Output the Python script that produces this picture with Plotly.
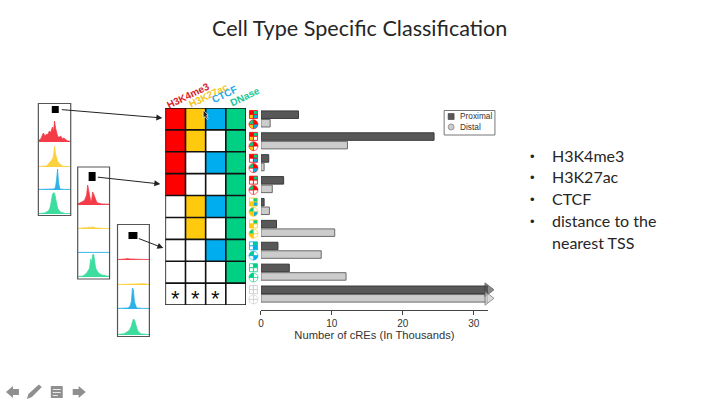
import plotly.graph_objects as go

W, H = 720, 404
X_NUDGE = 2  # the page draws the figure this many pixels to the right
def px(x): return (x - X_NUDGE) / W
def py(y): return 1 - y / H

# ---------- data ----------
title = "Cell Type Specific Classification"
marks = ["H3K4me3", "H3K27ac", "CTCF", "DNase"]
mark_colors = ["#ff0000", "#ffc90e", "#00aeef", "#00d084"]
header_colors = ["#d8232a", "#f5c518", "#1ca9e6", "#19c795"]
track_colors = ["#f43c48", "#fcd03e", "#2db2e8", "#3ddc9f"]
rows = list(range(1, 10))
# which mark is present in each row (H3K4me3, H3K27ac, CTCF, DNase)
presence = [
    [1, 1, 1, 1], [1, 1, 0, 1], [1, 0, 1, 1], [1, 0, 0, 1], [0, 1, 1, 1],
    [0, 1, 0, 1], [0, 0, 1, 1], [0, 0, 0, 1], [0, 0, 0, 0],
]
star_columns = ["H3K4me3", "H3K27ac", "CTCF"]
proximal = [5.3, 24.4, 1.1, 3.2, 0.45, 2.2, 2.4, 4.0, 32]
distal = [1.3, 12.2, 0.45, 1.6, 1.2, 10.4, 8.5, 12.0, 32]
x_ticks = [0, 10, 20, 30]
x_title = "Number of cREs (In Thousands)"
bullets = ["H3K4me3", "H3K27ac", "CTCF", "distance to the"]
bullet_cont = "nearest TSS"

p1_red = [1,2,3,4,7,9,7,6,8,7,9,11,9,13,15,10,21,14,9,6,5,5,6,4,3,4,3,2,2,1,1,1,.5]
p1_yel = [.4,.4,.4,.5,.5,.5,1,1,1,2,3,4,5,6,8,11,21,13,8,6,4,3,2,1,1,.7,.5,.5,.4,.4,.4,.4,.4]
p1_blu = [.6,.6,.6,.6,.6,.6,.6,.6,.6,.6,.6,.6,.6,.7,.8,1,1.5,3,10,21,7,2,1,.7,.6,.6,.6,.6,.6,.6,.6,.6,.6]
p1_grn = [.5,.5,.5,1,1,1,1,1.5,2,2,3,5,8,14,20,21,21,16,10,6,4,2.5,2,1.5,1,1,.7,.5,.5,.5,.5,.5,.5]
p2_red = [1,1.5,2,2,3,3,4,5,7,10,20,15,8,4,4,13,11,8,5,3,2,2,2,1.5,1,1,1,1,1,1,.8,.8,.8]
p2_yel = [.5,.5,.5,.6,.7,1,1,1.5,1,1,1.5,2,1.5,1,2.5,1.5,2,1,1,1,.8,1,.8,.7,.7,.6,.5,.5,.5,.5,.5,.5,.5]
p2_blu = [.6,.6,.6,.6,.6,.7,.6,.6,.7,.6,.6,.7,.6,.6,.7,.6,.6,.7,.6,.6,.6,.7,.6,.6,.6,.6,.7,.6,.6,.6,.6,.6,.6]
p2_grn = [.5,.5,.5,.6,.7,1,1.5,2,3,4,5,7,9,18,14,22,23,13,9,7,5,4,3,3,2,2,1.5,2,1.5,1,1,.8,.7]
p3_red = [.5,.5,.5,.6,.6,.8,1,1.2,1,1.4,1.5,1.2,1.1,1,.9,.8,.8,.7,.8,.7,.7,.8,.7,.7,.6,.6,.7,.6,.6,.6,.5,.5,.5]
p3_yel = [.5,.5,.5,.5,.5,.5,.5,.5,.6,.5,.5,.6,.5,.5,.6,.6,.6,.7,.7,.8,.8,.9,1,1,1.2,1.4,1.2,1.6,1.2,1,.7,.6,.5]
p3_blu = [.6,.6,.6,.6,.6,.6,.6,.6,.7,.8,1,1.4,2,4,8,21,19,7,3,1.5,1,.8,.7,.6,.6,.6,.6,.6,.6,.6,.6,.6,.6]
p3_grn = [.5,.5,.6,.7,.8,1,1.2,1.5,2,2.5,3,4,5,7,9,13,16,15,11,8,5,3,2,1.5,1,1,.8,.7,.6,.6,.5,.5,.5]
panels = [[p1_red, p1_yel, p1_blu, p1_grn],
          [p2_red, p2_yel, p2_blu, p2_grn],
          [p3_red, p3_yel, p3_blu, p3_grn]]

# ---------- layout geometry ----------
panel_x = [(37.5, 70), (77, 109), (117, 149)]
panel_base = [[142, 167, 190, 214], [205, 229, 253, 277], [260, 285, 309, 335]]
panel_top = [103.5, 167, 224.5]
panel_bottom = [215.5, 279, 336.5]
selectors = [(51, 106, 58, 113), (88, 172, 95, 181), (128, 232, 137, 239)]
arrows = [(60, 109.5, 162, 118), (96, 177, 160, 184), (137, 238, 163, 248)]
mat_l, mat_r, mat_t, mat_b = 165, 246, 108, 305
bar_l, bar_r = 261, 489
axis_y = 310

fig = go.Figure()
shapes, annots = [], []

def label(x, y, text, size, color, family="Liberation Sans", xanchor="center", **kw):
    annots.append(dict(x=px(x), y=py(y), xref="paper", yref="paper", text=text, showarrow=False,
                       xanchor=xanchor, yanchor="middle",
                       font=dict(family=family, size=size, color=color), **kw))

# ---------- bars ----------
fig.add_trace(go.Bar(x=proximal, y=rows, orientation="h", xaxis="x", yaxis="y", showlegend=False, name="Proximal",
                     marker=dict(color="#585858", line=dict(color="#3a3a3a", width=1))))
fig.add_trace(go.Bar(x=distal, y=rows, orientation="h", xaxis="x", yaxis="y", showlegend=False, name="Distal",
                     marker=dict(color="#cccccc", line=dict(color="#6a6a6a", width=1))))
fig.add_trace(go.Scatter(x=[proximal[-1], distal[-1]], y=[rows[-1] - .195, rows[-1] + .195], mode="markers",
                         xaxis="x", yaxis="y", showlegend=False, cliponaxis=False, hoverinfo="skip",
                         marker=dict(symbol="triangle-right", size=[12, 12], color=["#585858", "#cccccc"],
                                     line=dict(color=["#3a3a3a", "#6a6a6a"], width=1))))

# ---------- matrix ----------
z = [[(c + 1) * v for c, v in enumerate(r)] for r in presence]
scale = [[0, "#ffffff"], [.2, "#ffffff"], [.2, mark_colors[0]], [.4, mark_colors[0]], [.4, mark_colors[1]],
         [.6, mark_colors[1]], [.6, mark_colors[2]], [.8, mark_colors[2]], [.8, mark_colors[3]], [1, mark_colors[3]]]
fig.add_trace(go.Heatmap(z=z, x=[0, 1, 2, 3], y=rows, zmin=0, zmax=4.99, colorscale=scale, showscale=False,
                         xaxis="x2", yaxis="y2", hoverinfo="skip"))
for i in range(5):
    shapes.append(dict(type="line", xref="x2", yref="y2", x0=i - .5, x1=i - .5, y0=.5, y1=9.5,
                       line=dict(color="#111", width=1.6)))
for i in range(10):
    shapes.append(dict(type="line", xref="x2", yref="y2", x0=-.5, x1=3.5, y0=i + .5, y1=i + .5,
                       line=dict(color="#111", width=1.6)))
for name in star_columns:
    annots.append(dict(x=marks.index(name), y=9, xref="x2", yref="y2", text="*", showarrow=False, yshift=-4,
                       font=dict(family="Liberation Sans", size=22, color="#111")))

# headers
hdr_pos = [(188, 95), (208, 95), (224, 94), (245, 96)]
for m, c, (x, y) in zip(marks, header_colors, hdr_pos):
    label(x, y, "<b>" + m + "</b>", 10, c, textangle=-26)

# ---------- icons ----------
ic_l, ic_r = 249.5, 257.5
row_h = (mat_b - mat_t) / 9
quad_order = [(0, 0, 0), (0, 1, 3), (1, 0, 1), (1, 1, 2)]  # row, col, mark index
for i, pres in enumerate(presence):
    border = next((mark_colors[k] for k, v in enumerate(pres) if v), "#c8c8c8")
    top = mat_t + i * row_h + 2.5
    hs = (ic_r - ic_l) / 2
    for r, c, k in quad_order:
        shapes.append(dict(type="rect", xref="paper", yref="paper",
                           x0=px(ic_l + c * hs), x1=px(ic_l + (c + 1) * hs),
                           y0=py(top + r * hs), y1=py(top + (r + 1) * hs),
                           fillcolor=mark_colors[k] if pres[k] else "#ffffff",
                           line=dict(color=border, width=.8)))
    pie_top = top + 9.3
    fig.add_trace(go.Pie(values=[1, 1, 1, 1], sort=False, direction="clockwise", rotation=0, textinfo="none",
                         hoverinfo="skip", showlegend=False, automargin=False,
                         domain=dict(x=[px(ic_l - .5), px(ic_r + .5)], y=[py(pie_top + 9), py(pie_top)]),
                         marker=dict(colors=[mark_colors[k] if pres[k] else "#ffffff" for k in (0, 2, 1, 3)],
                                     line=dict(color=border, width=.6))))

# ---------- tracks ----------
layout_axes = {}
n = 3
for p, tracks in enumerate(panels):
    l, r = panel_x[p]
    for t, vals in enumerate(tracks):
        fig.add_trace(go.Scatter(x=list(range(len(vals))), y=vals, mode="lines", fill="tozeroy",
                                 fillcolor=track_colors[t], line=dict(color=track_colors[t], width=.8),
                                 xaxis=f"x{n}", yaxis=f"y{n}", showlegend=False, hoverinfo="skip"))
        base = panel_base[p][t]
        layout_axes[f"xaxis{n}"] = dict(domain=[px(l), px(r)], range=[0, len(vals) - 1], visible=False, anchor=f"y{n}")
        layout_axes[f"yaxis{n}"] = dict(domain=[py(base), py(base - 24)], range=[0, 24], visible=False, anchor=f"x{n}")
        n += 1
    shapes.append(dict(type="rect", xref="paper", yref="paper", x0=px(l), x1=px(r), y0=py(panel_bottom[p]),
                       y1=py(panel_top[p]), line=dict(color="#555", width=1.2)))
    a, b, c, d = selectors[p]
    shapes.append(dict(type="rect", xref="paper", yref="paper", x0=px(a), x1=px(c), y0=py(d), y1=py(b),
                       fillcolor="#000", line=dict(width=0)))
for x0, y0, x1, y1 in arrows:
    annots.append(dict(x=px(x1), y=py(y1), ax=x0 - x1, ay=y0 - y1, xref="paper", yref="paper", axref="pixel",
                       ayref="pixel", xanchor="center", yanchor="middle", text="", showarrow=True, arrowhead=2,
                       arrowsize=1.2, arrowwidth=1, arrowcolor="#222"))

# ---------- legend ----------
shapes.append(dict(type="rect", xref="paper", yref="paper", x0=px(445), x1=px(496), y0=py(135), y1=py(110.5),
                   fillcolor="#fff", line=dict(color="#777", width=1)))
shapes.append(dict(type="rect", xref="paper", yref="paper", x0=px(449), x1=px(455), y0=py(119.5), y1=py(113.5),
                   fillcolor="#585858", line=dict(color="#3a3a3a", width=.6)))
shapes.append(dict(type="circle", xref="paper", yref="paper", x0=px(449), x1=px(455), y0=py(130), y1=py(124),
                   fillcolor="#cccccc", line=dict(color="#6a6a6a", width=.6)))
for txt, y in (("Proximal", 116.5), ("Distal", 127)):
    label(459, y, txt, 8.3, "#333", xanchor="left")

# ---------- slide text ----------
label(359.5, 28, title, 21.6, "#262626", family="Lato")
for txt, y in zip(bullets + [bullet_cont], [155, 177, 198, 220, 242]):
    label(551, y, txt, 16, "#262626", family="Lato", xanchor="left")
for y in [156, 178, 199, 221]:
    label(533.5, y, "•", 13, "#262626")

# ---------- cursor and slide controls ----------
def path(points):
    return "M " + " L ".join(f"{px(x):.5f} {py(y):.5f}" for x, y in points) + " Z"
def deco(points, fill, line="rgba(0,0,0,0)"):
    shapes.append(dict(type="path", xref="paper", yref="paper", path=path(points), fillcolor=fill,
                       line=dict(color=line, width=.7)))
deco([(203, 110), (203, 118), (205, 116.5), (207, 119.5), (208, 118.5), (206.5, 115.5), (208, 115)], "#222", "#fff")
ICON = "#8f8f8f"
deco([(5, 392), (12, 386), (12, 389), (18, 389), (18, 395), (12, 395), (12, 398)], ICON)
deco([(26, 399), (27.5, 394), (38, 384.5), (41, 387), (31, 397)], ICON)
deco([(50, 386), (62, 386), (62, 398), (50, 398)], ICON)
for a, b in ((389, 390), (392, 393), (395, 396)):
    deco([(52, a), (60 if a < 395 else 57, a), (60 if a < 395 else 57, b), (52, b)], "#e8e8e8")
deco([(85, 392), (78, 386), (78, 389), (72, 389), (72, 395), (78, 395), (78, 398)], ICON)

fig.update_layout(
    width=W, height=H, autosize=False, margin=dict(l=0, r=0, t=0, b=0),
    paper_bgcolor="#fff", plot_bgcolor="rgba(0,0,0,0)", showlegend=False,
    barmode="group", bargap=.22, bargroupgap=.12, shapes=shapes, annotations=annots,
    xaxis=dict(domain=[px(bar_l), px(bar_r)], range=[0, 32], anchor="free", position=py(axis_y),
               tickvals=x_ticks, ticks="outside", ticklen=4, tickwidth=1, tickcolor="#444",
               showline=True, linecolor="#444", linewidth=1, showgrid=False, zeroline=False,
               tickfont=dict(family="Liberation Sans", size=10, color="#333"),
               title=dict(text=x_title, standoff=3, font=dict(family="Liberation Sans", size=11.2, color="#333"))),
    yaxis=dict(domain=[py(mat_b), py(mat_t)], range=[9.5, .5], visible=False, anchor="x"),
    xaxis2=dict(domain=[px(mat_l), px(mat_r)], range=[-.5, 3.5], visible=False, anchor="y2"),
    yaxis2=dict(domain=[py(mat_b), py(mat_t)], range=[9.5, .5], visible=False, anchor="x2"),
    **layout_axes,
)
fig.write_html("out.html", config={"displayModeBar": False},
               post_script="document.body.style.margin='0';document.documentElement.style.margin='0';")
